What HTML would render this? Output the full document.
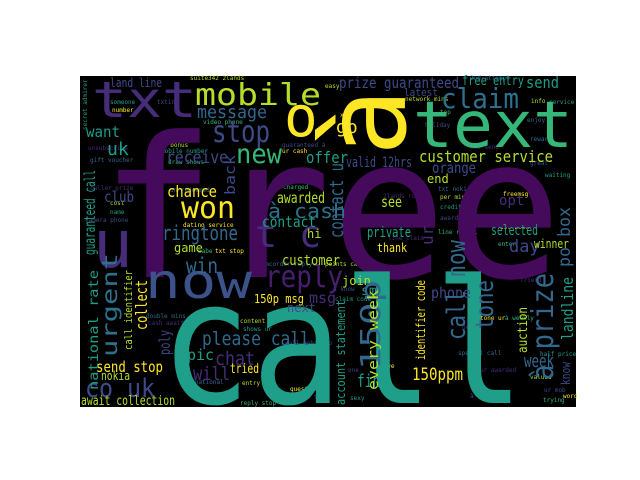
<!DOCTYPE html>
<html><head><meta charset="utf-8"><style>
html,body{margin:0;padding:0;background:#fff;width:640px;height:480px;overflow:hidden}
svg{display:block}
text{font-family:"DejaVu Sans Mono","Liberation Mono",monospace}
</style></head><body>
<svg id="wc" width="640" height="480" viewBox="0 0 640 480" xmlns="http://www.w3.org/2000/svg">
<rect x="80" y="76" width="496" height="331" fill="#000"/>
<g id="words"></g>
</svg>
<script>
// word, x, y (baseline; vertical: right x, bottom y), font size, colour, target length
const hWords = [
["free",100,277,196,"#450a5c",462],
["call",160,403,172,"#1f9e89",365],
["txt",92,117,50,"#472c7a",105],
["mobile",195,105,30,"#b5de2b",126],
["text",413,147,64,"#35b779",160],
["claim",441,108,28,"#2c728e",78],
["stop",212,142,30,"#3e4a89",58],
["new",236,163,27,"#35b779",46],
["won",181,218,30,"#fde725",54],
["now",145,298,48,"#3b528b",107],
["reply",265,287,30,"#481f70",78],
["u",93,267,66,"#472c7a",0],
["t c",255,247,37,"#472c7a",66],
["win",186,273,21,"#31688e",32],
["land line",110,87,12,"#3e4a89",52],
["message",197,118,18,"#31688e",70],
["want",86,137,15,"#1f9e89",34],
["uk",107,155,18,"#1f9e89",0],
["receive",166,163,17,"#3e4a89",62],
["chance",167,197,16,"#fde725",50],
["club",104,202,15,"#3e4a89",30],
["awarded",277,203,15,"#b5de2b",48],
["à cash",268,218,20,"#2c728e",78],
["contact",262,227,15,"#1f9e89",54],
["ringtone",162,240,20,"#31688e",76],
["offer",306,163,16,"#1f9e89",42],
["prize guaranteed",339,88,15,"#3e4a89",120],
["free entry",462,85,13,"#1f9e89",62],
["send",526,88,16,"#1f9e89",33],
["latest",404,96,11,"#3e4a89",34],
["go",336,133,18,"#fde725",0],
["customer service",419,162,16,"#b5de2b",134],
["valid 12hrs",346,167,14,"#3e4a89",66],
["orange",432,173,15,"#3e4a89",44],
["end",427,183,12,"#b5de2b",0],
["see",381,207,15,"#b5de2b",21],
["opt",499,205,14,"#472c7a",0],
["private",367,237,14,"#1f9e89",44],
["selected",491,235,14,"#1f9e89",47],
["hi",307,238,12,"#b5de2b",0],
["day",509,252,17,"#3e4a89",0],
["winner",534,248,12,"#b5de2b",35],
["thank",377,252,12,"#fde725",30],
["game",174,252,12,"#b5de2b",0],
["customer",282,265,14,"#b5de2b",58],
["join",342,285,12,"#b5de2b",0],
["sms",361,295,13,"#1f9e89",0],
["phone",431,298,15,"#3e4a89",40],
["msg",309,303,15,"#472c7a",0],
["150p msg",254,303,12,"#fde725",50],
["next",287,312,12,"#3e4a89",0],
["please call",202,345,19,"#31688e",108],
["pic",187,360,15,"#1f9e89",0],
["chat",215,365,19,"#472c7a",40],
["send stop",96,372,15,"#fde725",67],
["tried",230,373,13,"#fde725",29],
["week",524,367,18,"#31688e",30],
["will",193,380,19,"#472c7a",37],
["nokia",101,380,12,"#b5de2b",29],
["150ppm",412,380,17,"#fde725",51],
["find",357,387,18,"#1f9e89",31],
["co uk",85,397,26,"#3e4a89",70],
["await collection",81,405,13,"#b5de2b",94],
["o",284,136,56,"#fde725",0]
];
const vWords = [
["à",405,156,112,"#fde725",0],
["urgent",117,357,21,"#2c728e",104],
["national rate",98,390,13,"#1f9e89",120],
["guaranteed call",95,255,15,"#1f9e89",85],
["collect",147,330,16,"#fde725",50],
["poly",170,355,15,"#3e4a89",25],
["call identifier",132,350,11,"#b5de2b",80],
["back",235,195,14,"#3e4a89",40],
["contact u",343,238,19,"#31688e",75],
["ur",433,245,16,"#472c7a",0],
["150p",380,370,28,"#31688e",90],
["call now",465,340,26,"#31688e",100],
["tone",493,330,25,"#31688e",50],
["à prize",553,380,30,"#31688e",107],
["po box",570,267,17,"#31688e",60],
["landline",573,340,16,"#1f9e89",63],
["auction",527,353,13,"#b5de2b",46],
["know",570,385,12,"#3e4a89",23],
["every week",378,390,14,"#b5de2b",100],
["account statement",345,405,12,"#1f9e89",105],
["identifier code",425,360,12,"#fde725",80],
["secret admirer",87,130,6,"#1f9e89",0]
];
const tinyWords = [
["suite342 2lands",190,80],["someone",110,104],["txting",157,104],["number",112,112],
["video phone",203,124],["unsubscribe",88,150],["gift voucher",90,162],["à bonus",163,147],
["mobile number",161,153],["guaranteed à",282,147],["ur cash",282,153],["draw shows",168,164],
["caller prize",90,190],["un redeemed",170,192],["cost",110,205],["name",110,214],
["camera phone",85,222],["dating service",183,227],["charged",283,189],["2lands row",383,198],
["txt nokia",438,191],["per min",440,199],["credit",440,209],["award",440,220],["freemsg",503,196],
["line rental",438,234],["line claim",388,240],["enjoy",527,122],["info",531,103],["service",549,104],
["holiday",425,127],["xxx",340,117],["top",440,114],["now send",470,149],["reward",530,141],
["network mins",405,101],["waiting",545,177],["great",530,165],["1st week",500,229],["enter",498,246],
["friend",520,282],["camcorder reply",258,266],["points call",325,266],["claim code",335,301],
["u know",333,291],["txt stop",215,253],["babe",198,253],["cash await",148,325],["double mins",146,318],
["content",240,323],["shows ur",243,331],["call mobilesp",285,345],["question",290,391],
["reply stop",240,405],["nokia tone",292,399],["bt national",184,384],["entry",242,385],
["half price",540,356],["ur mob",544,392],["word",563,398],["trying",543,402],["ur awarded",480,372],
["special call",458,355],["valued",530,379],["xmas",475,392],["à award",470,398],["tone ur",480,320],
["à weekly",505,320],["dear",462,329],["2nd attempt",470,80],["easy",325,88],["sexy",350,400],
["one",348,372],["love",380,368]
];
const tinyColors = ["#b5de2b","#1f9e89","#3e4a89","#fde725","#35b779","#472c7a","#31688e"];

const g = document.getElementById('words');
const NS = 'http://www.w3.org/2000/svg';
function slug(s){return s.replace(/[^a-z0-9]+/gi,'-').replace(/^-|-$/g,'').toLowerCase()||'accent';}
function mk(w, x, y, size, color, len, vertical){
  const el = document.createElementNS(NS,'text');
  
  
  el.setAttribute('x', x);
  el.setAttribute('y', y);
  el.setAttribute('font-size', size);
  el.setAttribute('fill', color);
  if (len) { el.setAttribute('textLength', len); el.setAttribute('lengthAdjust', 'spacingAndGlyphs'); }
  if (vertical) el.setAttribute('transform', 'rotate(-90 ' + x + ' ' + y + ')');
  el.textContent = w;
  g.appendChild(el);
}
tinyWords.forEach((t,i)=>mk(t[0], t[1], t[2], 6, tinyColors[i % tinyColors.length], 0, false));
hWords.forEach(t=>mk(t[0],t[1],t[2],t[3],t[4],t[5],false));
vWords.forEach(t=>mk(t[0],t[1],t[2],t[3],t[4],t[5],true));
</script>
</body></html>
